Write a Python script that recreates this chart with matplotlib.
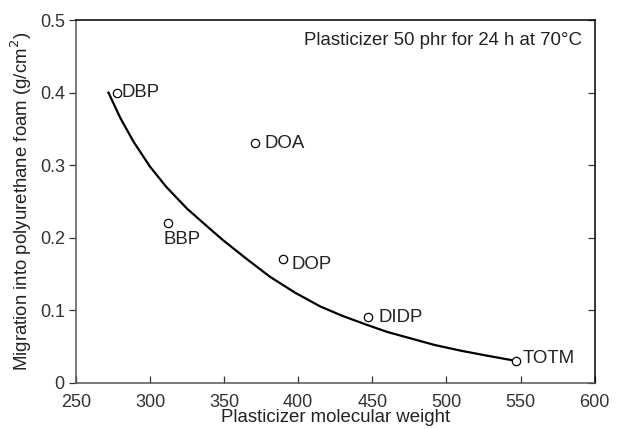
import matplotlib
matplotlib.use("Agg")
import matplotlib.pyplot as plt
from matplotlib.ticker import FuncFormatter

plt.rcParams["font.family"] = ["Liberation Sans", "DejaVu Sans"]

# measured migration per plasticizer
names = ["DBP", "BBP", "DOA", "DOP", "DIDP", "TOTM"]
mol_weight = [278, 312, 371, 390, 447, 547]
migration = [0.40, 0.22, 0.33, 0.17, 0.09, 0.03]
label_offsets = [(3, 0), (-3, -11.5), (6.5, 0), (6, -4), (8, 0), (5, 2)]

# trend curve through the data
trend_x = [272, 280, 289, 300, 311, 325, 340, 349, 365, 381, 398, 415, 430,
           446, 460, 476, 492, 510, 528, 547]
trend_y = [0.400, 0.365, 0.332, 0.298, 0.270, 0.240, 0.213, 0.197, 0.171,
           0.146, 0.124, 0.105, 0.092, 0.080, 0.070, 0.061, 0.052, 0.044,
           0.037, 0.030]

x_ticks = [250, 300, 350, 400, 450, 500, 550, 600]
y_ticks = [0, 0.1, 0.2, 0.3, 0.4, 0.5]

fig = plt.figure(figsize=(6.22, 4.29), dpi=100)
ax = fig.add_axes([0.122, 0.108, 0.834, 0.845])

ax.plot(trend_x, trend_y, color="black", lw=1.6, zorder=2,
        solid_joinstyle="round")
ax.plot(mol_weight, migration, "o", ms=6, mfc="white", mec="black",
        mew=0.9, zorder=3)

for name, mx, my, off in zip(names, mol_weight, migration, label_offsets):
    ax.annotate(name, (mx, my), xytext=off, textcoords="offset points",
                ha="left", va="center", fontsize=13.4, color="#222222")

ax.text(0.975, 0.945, "Plasticizer 50 phr for 24 h at 70\u00b0C",
        transform=ax.transAxes, ha="right", va="center", fontsize=13.4,
        color="#222222")

ax.set_xlim(250, 600)
ax.set_ylim(0, 0.5)
ax.set_xticks(x_ticks)
ax.set_yticks(y_ticks)
ax.yaxis.set_major_formatter(FuncFormatter(lambda v, p: "0" if v == 0 else f"{v:g}"))

ax.tick_params(axis="x", direction="in", length=5, width=0.9,
               labelsize=13, pad=8, colors="#333333")
ax.tick_params(axis="y", direction="out", length=5, width=0.9,
               labelsize=13, pad=3, colors="#333333", right=True)
ax.tick_params(axis="y", which="both", labelright=False)
for t in ax.yaxis.get_ticklines()[1::2]:
    t.set_marker(0)  # right-side ticks point inward
    t.set_markersize(5)

ax.set_xlabel("Plasticizer molecular weight", fontsize=13.4, color="#222222",
              labelpad=-1)
ax.set_ylabel("Migration into polyurethane foam (g/cm$^2$)", fontsize=13.4,
              color="#222222", labelpad=4)

for side in ["left", "bottom"]:
    ax.spines[side].set_color("#555555")
    ax.spines[side].set_linewidth(1.1)
for side in ["top", "right"]:
    ax.spines[side].set_color("black")
    ax.spines[side].set_linewidth(1.1)

fig.savefig("out.png", dpi=100)
